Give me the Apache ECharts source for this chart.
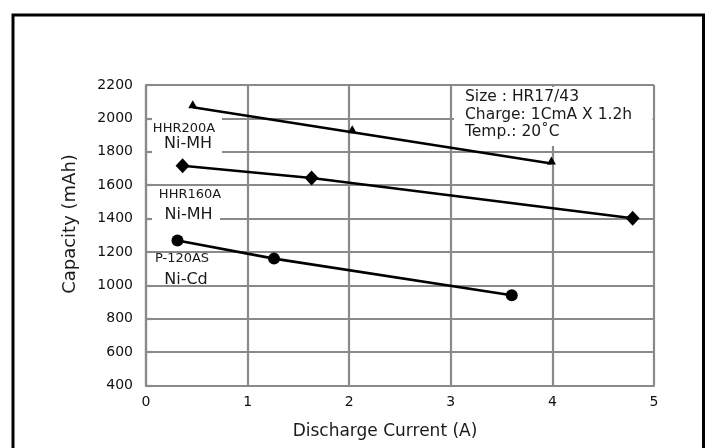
<!DOCTYPE html>
<html><head><meta charset="utf-8">
<script src="https://cdn.jsdelivr.net/npm/echarts@6/dist/echarts.min.js"></script>
<style>html,body{margin:0;padding:0;background:#fff}#c{width:707px;height:448px}</style>
</head><body><div id="c"></div>
<script>
// ---- data ----
const xTicks = [0, 1, 2, 3, 4, 5];
const yTicks = [400, 600, 800, 1000, 1200, 1400, 1600, 1800, 2000, 2200];
const hhr200aX = [0.46, 2.03, 3.99];
const hhr200aY = [2067, 1917, 1730];
const hhr160aX = [0.36, 1.63, 4.79];
const hhr160aY = [1716, 1643, 1402];
const p120asX = [0.31, 1.26, 3.60];
const p120asY = [1268, 1160, 941];
const modelNames = ['HHR200A', 'HHR160A', 'P-120AS'];
const chemistry = ['Ni-MH', 'Ni-MH', 'Ni-Cd'];
const infoLines = ['Size : HR17/43', 'Charge: 1CmA X 1.2h', 'Temp.: 20\u02DAC'];
const xTitle = 'Discharge Current (A)';
const yTitle = 'Capacity (mAh)';

const pairs = (xs, ys) => xs.map((x, i) => [x, ys[i]]);
const FONT = '"DejaVu Sans", "Liberation Sans", sans-serif';
const GRID = '#8a8a8a';

const chart = echarts.init(document.getElementById('c'), null, {renderer: 'canvas'});

function txt(text, x, y, size, align, extra) {
  return Object.assign({
    type: 'text', x: x, y: y, z: 6,
    style: {text: text, fontFamily: FONT, fontSize: size, fill: '#1a1a1a',
            align: align || 'center', verticalAlign: 'middle'}
  }, extra || {});
}
function mask(x, y, w, h) {
  return {type: 'rect', z: 5, shape: {x: x, y: y, width: w, height: h},
          style: {fill: '#fff', stroke: null}};
}

const lineSeries = (name, data, symbol, size, offset) => ({
  name: name, type: 'line', data: data, z: 10,
  symbol: symbol, symbolSize: size, symbolOffset: offset || [0, 0],
  showSymbol: true,
  lineStyle: {color: '#000', width: 2.6},
  itemStyle: {color: '#000', borderWidth: 0},
  emphasis: {disabled: true},
  animation: false
});

chart.setOption({
  animation: false,
  backgroundColor: '#fff',
  grid: {left: 146, right: 53, top: 85, bottom: 62.5, containLabel: false},
  xAxis: {
    type: 'value', min: xTicks[0], max: xTicks[xTicks.length - 1], interval: 1,
    axisLine: {show: true, lineStyle: {color: GRID, width: 2.2}},
    axisTick: {show: false},
    splitLine: {show: true, lineStyle: {color: GRID, width: 2.2}},
    axisLabel: {color: '#111', fontFamily: FONT, fontSize: 14, margin: 10,
                formatter: v => String(v)}
  },
  yAxis: {
    type: 'value', min: yTicks[0], max: yTicks[yTicks.length - 1], interval: 200,
    axisLine: {show: true, lineStyle: {color: GRID, width: 2.2}},
    axisTick: {show: true, inside: true, length: 6, lineStyle: {color: GRID, width: 2.2}},
    splitLine: {show: true, lineStyle: {color: GRID, width: 2.2}},
    axisLabel: {color: '#111', fontFamily: FONT, fontSize: 14, margin: 13,
                formatter: v => String(v)}
  },
  series: [
    lineSeries(modelNames[0], pairs(hhr200aX, hhr200aY), 'triangle', [9, 8], [0, -3]),
    lineSeries(modelNames[1], pairs(hhr160aX, hhr160aY), 'diamond', [14, 15]),
    lineSeries(modelNames[2], pairs(p120asX, p120asY), 'circle', 12)
  ],
  graphic: [
    // page frame
    {type: 'rect', z: 20, shape: {x: 13, y: 15, width: 690.5, height: 480},
     style: {fill: null, stroke: '#000', lineWidth: 3}},
    // white patches behind annotations
    mask(152, 116, 70, 37),
    mask(152, 188, 68, 33),
    mask(454, 87, 198.5, 59),
    // series annotations
    txt(modelNames[0], 184, 129, 13),
    txt(chemistry[0], 188, 144, 16),
    txt(modelNames[1], 190, 194.5, 13),
    txt(chemistry[1], 188.5, 214.5, 16),
    txt(modelNames[2], 182, 259, 13),
    txt(chemistry[2], 186, 280, 16),
    // condition box
    txt(infoLines[0], 465, 97, 15.5, 'left'),
    txt(infoLines[1], 465, 114.5, 15.5, 'left'),
    txt(infoLines[2], 465, 132, 15.5, 'left'),
    // axis titles
    txt(yTitle, 70, 224, 18, 'center', {rotation: Math.PI / 2}),
    txt(xTitle, 385, 432, 17)
  ]
});
</script>
</body></html>
